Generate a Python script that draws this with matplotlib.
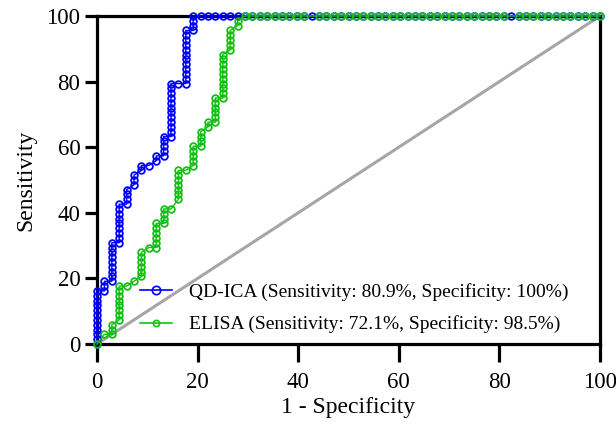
import matplotlib
matplotlib.use('Agg')
import matplotlib.pyplot as plt
from matplotlib.lines import Line2D

# ROC data, as counts out of 68 negatives / 68 positives.
# Each run: false positives, first true positive count, last true positive count
n_neg = 68
n_pos = 68

qd_fp = [0, 1, 2, 3, 4, 5, 6, 7, 8, 9, 10, 11, 12, 13]
qd_tp_lo = [0, 11, 13, 21, 29, 33, 36, 37, 38, 39, 43, 54, 54, 65]
qd_tp_hi = [11, 13, 21, 29, 32, 35, 37, 37, 39, 43, 54, 54, 65, 68]
qd_top_fp = list(range(14, 69))

elisa_fp = [0, 1, 2, 3, 4, 5, 6, 7, 8, 9, 10, 11, 12, 13, 14, 15, 16, 17, 18, 19]
elisa_tp_lo = [0, 2, 2, 5, 12, 13, 14, 20, 20, 25, 28, 30, 36, 37, 41, 45, 46, 51, 61, 66]
elisa_tp_hi = [0, 2, 4, 12, 12, 13, 19, 20, 25, 28, 28, 36, 36, 41, 44, 46, 51, 60, 65, 67]
elisa_top_fp = [fp for fp in range(20, 69) if fp not in (29, 56)]

labels = ['QD-ICA (Sensitivity: 80.9%, Specificity: 100%)',
          'ELISA (Sensitivity: 72.1%, Specificity: 98.5%)']
colors = ['#0000ff', '#14c014']


def build_points(fps, lo, hi, top_fp):
    xs, ys = [], []
    for fp, a, b in zip(fps, lo, hi):
        for tp in range(a, b + 1):
            xs.append(fp / n_neg * 100)
            ys.append(tp / n_pos * 100)
    for fp in top_fp:
        xs.append(fp / n_neg * 100)
        ys.append(100)
    return xs, ys


plt.rcParams['font.family'] = ['Liberation Serif', 'DejaVu Serif']

fig = plt.figure(figsize=(6.16, 4.24), dpi=100)
ax = fig.add_axes([0.1575, 0.1887, 0.8165, 0.7736])

# diagonal reference line
ax.plot([0, 100], [0, 100], color='#a6a6a6', lw=2.2, zorder=1)

qx, qy = build_points(qd_fp, qd_tp_lo, qd_tp_hi, qd_top_fp)
ex, ey = build_points(elisa_fp, elisa_tp_lo, elisa_tp_hi, elisa_top_fp)

ax.plot(qx, qy, color=colors[0], lw=1.0, marker='o', ms=4.8, mfc='none',
        mew=1.3, clip_on=False, zorder=4)
ax.plot(ex, ey, color=colors[1], lw=1.0, marker='o', ms=4.8, mfc='none',
        mew=1.3, clip_on=False, zorder=5)

ax.set_xlim(0, 100)
ax.set_ylim(0, 100)
ax.set_xticks([0, 20, 40, 60, 80, 100])
ax.set_yticks([0, 20, 40, 60, 80, 100])

for s in ax.spines.values():
    s.set_linewidth(2.3)
    s.set_zorder(3)
ax.tick_params(direction='out', width=2.3, labelsize=16.5)
ax.tick_params(axis='x', length=13, pad=7)
ax.tick_params(axis='y', length=9, pad=3)

ax.set_xlabel('1 - Specificity', fontsize=17, labelpad=3)
ax.set_ylabel('Sensitivity', fontsize=17, labelpad=7)

handles = [
    Line2D([], [], color=colors[0], lw=1.2, marker='o', ms=6, mfc='none', mew=1.2),
    Line2D([], [], color=colors[1], lw=1.2, marker='o', ms=4.5, mfc='none', mew=1.2),
]
ax.legend(handles, labels, loc='upper left', bbox_to_anchor=(0.085, 0.186),
          frameon=False, fontsize=14, handlelength=1.65, handletextpad=0.9,
          labelspacing=0.75, borderpad=0, borderaxespad=0)

fig.savefig('out.png', dpi=100)
